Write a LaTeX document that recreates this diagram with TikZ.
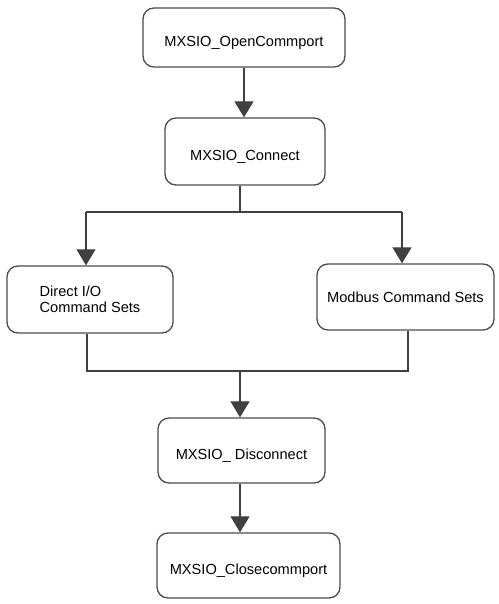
\documentclass[tikz,border=0pt]{standalone}
\usepackage{fontspec}
\setmainfont{Liberation Sans}
\usetikzlibrary{arrows.meta}
\begin{document}
\begin{tikzpicture}[x=1pt,y=-1pt,
  box/.style={draw=black!70, line width=1.3pt, rounded corners=11pt, font=\fontsize{14.6}{16.5}\selectfont, inner sep=0pt},
  onel/.style={text height=17.4pt, text depth=0pt},
  link/.style={draw=black!75, line width=1.2pt},
  arrow/.style={link, -{Triangle[length=16pt,width=19pt]}}]
\useasboundingbox (0,0) rectangle (498,604);
\node[box, onel, minimum width=202pt, minimum height=59pt] (b1) at (244,37.5) {MXSIO\_OpenCommport};
\node[box, onel, minimum width=160pt, minimum height=67pt] (b2) at (245,151.5) {MXSIO\_Connect};
\node[box, align=left, minimum width=166pt, minimum height=67pt] (b3) at (90,299.5) {Direct I/O\\Command Sets};
\node[box, minimum width=177pt, minimum height=66pt] (b4) at (405.5,297) {Modbus Command Sets};
\node[box, onel, minimum width=167pt, minimum height=65pt] (b5) at (241.5,450.5) {MXSIO\_ Disconnect};
\node[box, onel, minimum width=183pt, minimum height=65pt] (b6) at (248.5,565.5) {MXSIO\_Closecommport};
\coordinate (j1) at (240,212);
\coordinate (jl) at (86,212);
\coordinate (jr) at (402,212);
\coordinate (ml) at (87,371);
\coordinate (mr) at (408,371);
\coordinate (j2) at (240,371);
\draw[arrow] (b1.south) -- (b1.south |- b2.north);
\draw[link] (j1 |- b2.south) -- (j1);
\draw[link] (jl) -- (jr);
\draw[arrow] (jl) -- (jl |- b3.north);
\draw[arrow] (jr) -- (jr |- b4.north);
\draw[link] (ml |- b3.south) -- (ml) -- (mr) -- (mr |- b4.south);
\draw[arrow] (j2) -- (j2 |- b5.north);
\draw[arrow] (j2 |- b5.south) -- (j2 |- b6.north);
\end{tikzpicture}
\end{document}
